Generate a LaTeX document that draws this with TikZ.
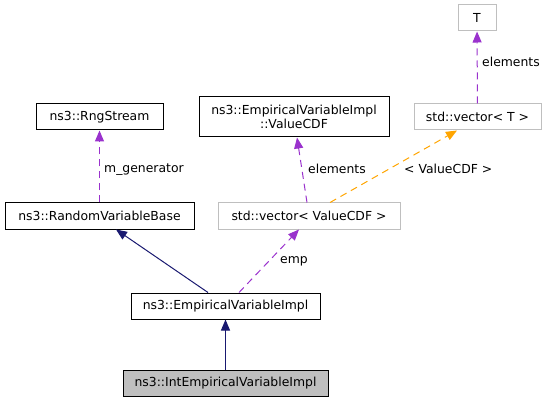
\documentclass[tikz,border=0pt]{standalone}
\usepackage{fontspec}
\setmainfont{DejaVu Sans}
\usepackage{tikz}
\usetikzlibrary{arrows.meta}
\usetikzlibrary{calc}

\definecolor{edgenavy}{HTML}{191970}
\definecolor{edgepurple}{HTML}{9A32CD}
\definecolor{edgeorange}{HTML}{FFA500}
\definecolor{boxgray}{HTML}{BFBFBF}

\tikzset{
    cls/.style={draw=black, line width=1pt, fill=white, inner sep=0pt,
        minimum height=26pt},
    tmpl/.style={draw=boxgray, line width=1pt, fill=white, inner sep=0pt,
        minimum height=26pt},
    inherit/.style={draw=edgenavy, line width=1pt,
        -{Triangle[length=11pt,width=9pt]}},
    member/.style={draw=edgepurple, line width=1pt,
        dash pattern=on 7pt off 5pt, -{Triangle[length=11pt,width=9pt]}},
    instance/.style={draw=edgeorange, line width=1pt,
        dash pattern=on 7pt off 5pt, -{Triangle[length=11pt,width=9pt]}},
    lbl/.style={anchor=west, inner sep=0pt}
}

\begin{document}
\begin{tikzpicture}[x=1pt, y=-1pt, font=\fontsize{12.4}{14.5}\selectfont]

        \useasboundingbox (0,0) rectangle (548,403);

        % classes
        \node[tmpl, minimum width=38pt] (T) at (477,18) {T};
        \node[tmpl, minimum width=127pt] (vecT) at (477.5,117)
        {std::vector< T >};
        \node[cls, minimum width=190pt, minimum height=40pt, align=center]
        (valuecdf) at (294,117) {ns3::EmpiricalVariableImpl\\::ValueCDF};
        \node[cls, minimum width=127pt] (rng) at (99.5,117) {ns3::RngStream};
        \node[cls, minimum width=189pt] (rvbase) at (99.5,216)
        {ns3::RandomVariableBase};
        \node[tmpl, minimum width=182pt] (vecvcdf) at (309,216)
        {std::vector< ValueCDF >};
        \node[cls, minimum width=189pt] (emp) at (225.5,306)
        {ns3::EmpiricalVariableImpl};
        \node[cls, fill=boxgray, minimum width=205pt] (intemp) at (225.5,383.5)
        {ns3::IntEmpiricalVariableImpl};

        % edges
        \draw[member] (vecT) -- (T);
        \draw[member] (rvbase) -- (rng);
        \draw[member] ([xshift=-2pt]vecvcdf.north) -- ([xshift=3pt]valuecdf.south);
        \draw[instance] ([xshift=21pt]vecvcdf.north) -- ([xshift=-20.5pt]vecT.south);
        \draw[inherit] ([xshift=-17.5pt]emp.north) -- ([xshift=16.5pt]rvbase.south);
        \draw[member] ([xshift=13.5pt]emp.north) -- ([xshift=-10pt]vecvcdf.south);
        \draw[inherit] (intemp) -- (emp);

        % labels
        \node[lbl] (lbltelem) at (482,62) {elements};
        \node[lbl] (lblelem) at (308,169) {elements};
        \node[lbl] (lblvcdf) at (404,169) {< ValueCDF >};
        \node[lbl] (lblgen) at (104,170) {m\_generator};
        \node[lbl] (lblemp) at (280,261) {emp};
\end{tikzpicture}
\end{document}
